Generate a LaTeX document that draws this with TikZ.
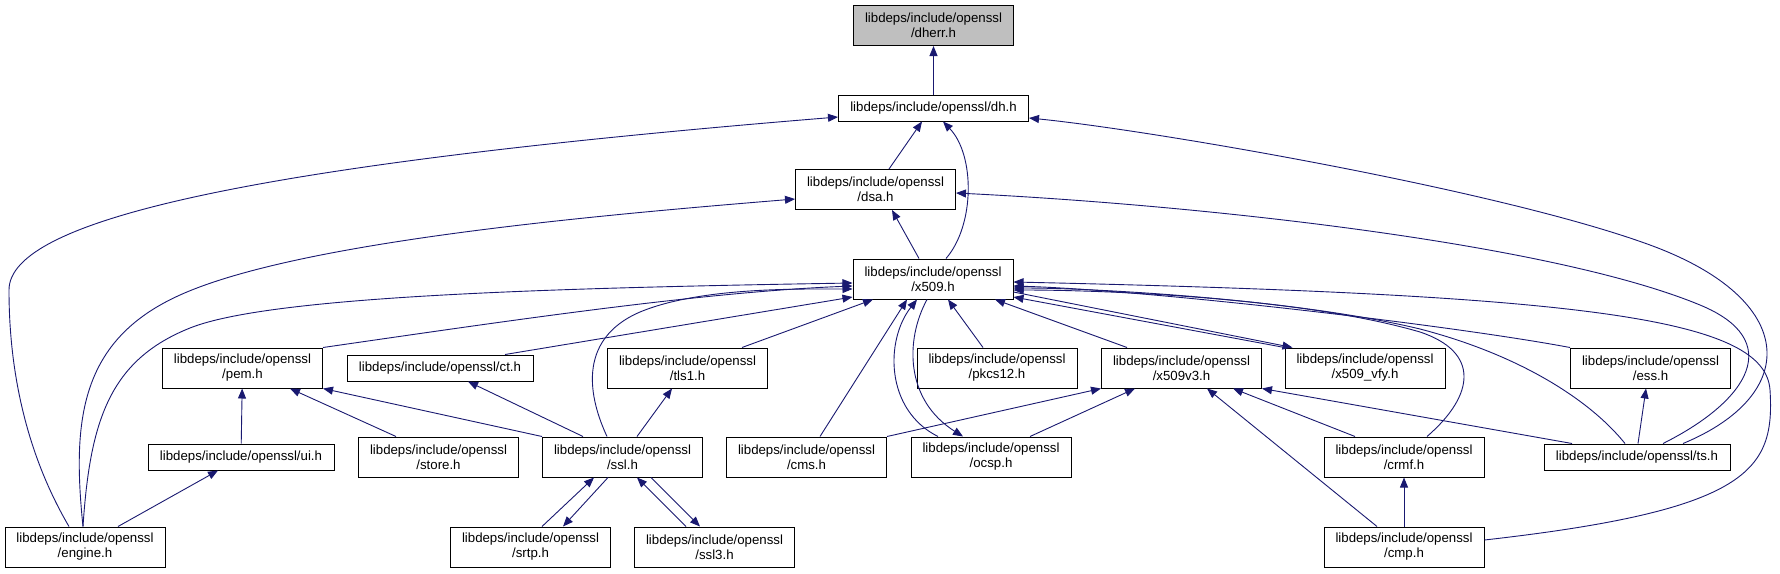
\documentclass[tikz,border=0pt]{standalone}
\usepackage{fontspec}
\setmainfont{Liberation Sans}
\usetikzlibrary{arrows.meta}
\definecolor{midnight}{RGB}{25,25,112}
\definecolor{curgray}{RGB}{191,191,191}
\newcommand{\boxfont}{\fontsize{13.25pt}{15pt}\selectfont}
\tikzset{
	hdr/.style={draw=black, line width=1pt, fill=white, minimum width=160pt, minimum height=40pt, inner sep=0pt, align=center, font=\boxfont},
	hdrw/.style={hdr, minimum width=186pt, minimum height=26pt},
	incl/.style={draw=midnight, line width=0.9pt, -{Triangle[length=10pt, width=8pt]}}
}
\begin{document}
\begin{tikzpicture}[x=1pt, y=-1pt]
	\useasboundingbox (0, 0) rectangle (1780, 573);
	% Files:
	\node[hdr, fill=curgray] (dherr) at (933.5, 25.5) {libdeps/include/openssl\\/dherr.h};
	\node[hdrw, minimum width=190pt] (dh) at (933.5, 108) {libdeps/include/openssl/dh.h};
	\node[hdr] (dsa) at (875.5, 189.5) {libdeps/include/openssl\\/dsa.h};
	\node[hdr] (x509) at (933, 279) {libdeps/include/openssl\\/x509.h};
	\node[hdr] (pem) at (242.5, 368) {libdeps/include/openssl\\/pem.h};
	\node[hdrw] (ct) at (440, 368) {libdeps/include/openssl/ct.h};
	\node[hdr] (tls1) at (687.5, 368) {libdeps/include/openssl\\/tls1.h};
	\node[hdr] (pkcs12) at (997, 368) {libdeps/include/openssl\\/pkcs12.h};
	\node[hdr] (x509v3) at (1181.5, 368) {libdeps/include/openssl\\/x509v3.h};
	\node[hdr] (x509vfy) at (1365, 368) {libdeps/include/openssl\\/x509\_vfy.h};
	\node[hdr] (ess) at (1650.5, 368) {libdeps/include/openssl\\/ess.h};
	\node[hdrw] (ui) at (241, 457) {libdeps/include/openssl/ui.h};
	\node[hdr] (store) at (438.5, 457) {libdeps/include/openssl\\/store.h};
	\node[hdr] (ssl) at (622.5, 457) {libdeps/include/openssl\\/ssl.h};
	\node[hdr] (cms) at (806.5, 457) {libdeps/include/openssl\\/cms.h};
	\node[hdr] (ocsp) at (991, 457) {libdeps/include/openssl\\/ocsp.h};
	\node[hdr] (crmf) at (1404, 457) {libdeps/include/openssl\\/crmf.h};
	\node[hdrw] (ts) at (1637, 457) {libdeps/include/openssl/ts.h};
	\node[hdr] (engine) at (85, 547) {libdeps/include/openssl\\/engine.h};
	\node[hdr] (srtp) at (530.5, 547) {libdeps/include/openssl\\/srtp.h};
	\node[hdr] (ssl3) at (714.5, 547) {libdeps/include/openssl\\/ssl3.h};
	\node[hdr] (cmp) at (1404, 547) {libdeps/include/openssl\\/cmp.h};
	% Includes of dherr.h and dh.h:
	\draw[incl] (dh) -- (dherr);
	\draw[incl] ([xshift=13.5pt]dsa.north) -- ([xshift=-11.5pt]dh.south);
	\draw[incl] ([xshift=13pt]x509.north) .. controls (975, 225) and (975, 155) .. ([xshift=9.5pt]dh.south);
	\draw[incl] ([xshift=-16pt]engine.north) .. controls (30, 460) and (9, 380) .. (9, 290) .. controls (9, 220) and (250, 165) .. ([yshift=-9pt]dh.west);
	\draw[incl] ([xshift=46pt]ts.north) .. controls (1800, 395) and (1800, 300) .. (1650, 245) .. controls (1500, 190) and (1150, 130) .. ([yshift=-10pt]dh.east);
	% Includes of dsa.h:
	\draw[incl] ([xshift=-14pt]x509.north) -- ([xshift=16.5pt]dsa.south);
	\draw[incl] ([xshift=-2pt]engine.north) .. controls (72, 420) and (80, 340) .. (180, 295) .. controls (300, 241) and (600, 215) .. ([yshift=-9.5pt]dsa.west);
	\draw[incl] ([xshift=26pt]ts.north) .. controls (1750, 400) and (1785, 340) .. (1700, 305) .. controls (1550, 243) and (1200, 205) .. ([yshift=-3.5pt]dsa.east);
	% Includes of x509.h:
	\draw[incl] ([xshift=-2pt]engine.north) .. controls (90, 420) and (110, 360) .. (190, 328) .. controls (270, 296) and (550, 288) .. ([yshift=-4pt]x509.west);
	\draw[incl] (pem.north east) .. controls (500, 322) and (700, 292) .. ([yshift=-7pt]x509.west);
	\draw[incl] ([xshift=65pt]ct.north) -- ([yshift=-18pt]x509.west);
	\draw[incl] ([xshift=-15.5pt]ssl.north) .. controls (590, 400) and (575, 340) .. (640, 312) .. controls (700, 287) and (800, 289) .. ([yshift=-10pt]x509.west);
	\draw[incl] ([xshift=54.5pt]tls1.north) -- ([xshift=-60pt]x509.south);
	\draw[incl] ([xshift=13.5pt]cms.north) -- ([xshift=-26pt]x509.south);
	\draw[incl] ([xshift=-53pt]ocsp.north) .. controls (885, 410) and (885, 340) .. ([xshift=-16pt]x509.south);
	\draw[incl] ([xshift=-6pt]x509.south) .. controls (905, 340) and (905, 400) .. ([xshift=-28pt]ocsp.north);
	\draw[incl] ([xshift=-14pt]pkcs12.north) -- ([xshift=15pt]x509.south);
	\draw[incl] ([xshift=-54.5pt]x509v3.north) -- ([xshift=62pt]x509.south);
	\draw[incl] (x509vfy.north west) -- ([yshift=-18pt]x509.east);
	\draw[incl] ([yshift=-13pt]x509.east) -- ([xshift=8pt]x509vfy.north west);
	\draw[incl] ([xshift=23pt]crmf.north) .. controls (1475, 395) and (1480, 352) .. (1420, 332) .. controls (1300, 297) and (1100, 290) .. ([yshift=-11pt]x509.east);
	\draw[incl] ([xshift=-12pt]ts.north) .. controls (1590, 400) and (1520, 355) .. (1420, 329) .. controls (1300, 300) and (1100, 288) .. ([yshift=-9pt]x509.east);
	\draw[incl] (ess.north west) .. controls (1450, 325) and (1150, 290) .. ([yshift=-7pt]x509.east);
	\draw[incl] ([yshift=7pt]cmp.east) .. controls (1750, 510) and (1775, 470) .. (1770, 390) .. controls (1765, 320) and (1600, 295) .. ([yshift=-3pt]x509.east);
	% Includes of pem.h, ct.h, tls1.h and ui.h:
	\draw[incl] (ui) -- (pem);
	\draw[incl] ([xshift=-42.5pt]store.north) -- ([xshift=47.5pt]pem.south);
	\draw[incl] (ssl.north west) -- (pem.south east);
	\draw[incl] ([xshift=33pt]engine.north) -- ([xshift=-23pt]ui.south);
	\draw[incl] ([xshift=-39.5pt]ssl.north) -- ([xshift=28pt]ct.south);
	\draw[incl] ([xshift=14.5pt]ssl.north) -- ([xshift=-15.5pt]tls1.south);
	% ssl.h and its cycles:
	\draw[incl] ([xshift=11.5pt]srtp.north) -- ([xshift=-28.5pt]ssl.south);
	\draw[incl] ([xshift=-14.5pt]ssl.south) -- ([xshift=32.5pt]srtp.north);
	\draw[incl] ([xshift=-28.5pt]ssl3.north) -- ([xshift=14.5pt]ssl.south);
	\draw[incl] ([xshift=28.5pt]ssl.south) -- ([xshift=-14.5pt]ssl3.north);
	% Includes of x509v3.h, crmf.h and ess.h:
	\draw[incl] (cms.north east) -- (x509v3.south west);
	\draw[incl] ([xshift=39pt]ocsp.north) -- ([xshift=-46.5pt]x509v3.south);
	\draw[incl] ([xshift=-27pt]cmp.north) -- ([xshift=25.5pt]x509v3.south);
	\draw[incl] ([xshift=-49pt]crmf.north) -- ([xshift=51.5pt]x509v3.south);
	\draw[incl] ([xshift=-65pt]ts.north) -- (x509v3.south east);
	\draw[incl] (cmp) -- (crmf);
	\draw[incl] ([xshift=1pt]ts.north) -- ([xshift=-4.5pt]ess.south);
\end{tikzpicture}
\end{document}
